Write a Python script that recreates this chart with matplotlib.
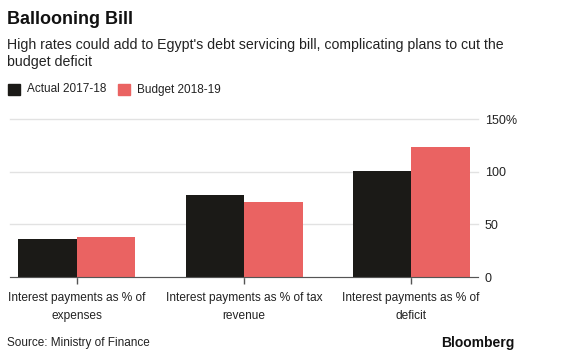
import numpy as np
import matplotlib.pyplot as plt

plt.rcParams['font.family'] = ['Liberation Sans', 'DejaVu Sans']

categories = ['Interest payments as % of\nexpenses',
              'Interest payments as % of tax\nrevenue',
              'Interest payments as % of\ndeficit']
actual = [36, 78, 101]
budget = [38, 71, 123.5]
series_names = ['Actual 2017-18', 'Budget 2018-19']
yticks = [0, 50, 100, 150]
ytick_labels = ['0', '50', '100', '150%']

black = '#1b1a17'
red = '#ea6362'

fig = plt.figure(figsize=(5.84, 3.55), dpi=100)
ax = fig.add_axes([10 / 584, 78 / 355, 468 / 584, 157.7 / 355])

X = np.arange(len(categories))
w = 0.35
ax.bar(X - w / 2, actual, width=w, color=black, zorder=3)
ax.bar(X + w / 2, budget, width=w, color=red, zorder=3)

ax.set_xlim(-0.4, 2.4)
ax.set_ylim(0, 150)
ax.yaxis.tick_right()
ax.set_yticks(yticks)
ax.set_yticklabels(ytick_labels, fontsize=9, color='#222222')
ax.tick_params(axis='y', length=0, pad=5)
ax.grid(axis='y', color='#e2e2e2', lw=1, zorder=0)
ax.set_xticks(X)
ax.set_xticklabels(categories, fontsize=8.6, color='#222222', linespacing=1.6)
ax.tick_params(axis='x', length=5, width=1, color='#555555', pad=6)
for s in ['top', 'right', 'left']:
    ax.spines[s].set_visible(False)
ax.spines['bottom'].set_color('#555555')
ax.spines['bottom'].set_zorder(4)
for gl in ax.get_ygridlines():
    gl.set_clip_on(False)

fig.text(7 / 584, 1 - 20 / 355, 'Ballooning Bill', fontsize=13, fontweight='bold',
         va='center', ha='left', color='#111111')
fig.text(7 / 584, 1 - 53.5 / 355,
         "High rates could add to Egypt's debt servicing bill, complicating plans to cut the\nbudget deficit",
         fontsize=10.2, va='center', ha='left', color='#222222', linespacing=1.3)

# legend
for name, col, x0 in zip(series_names, [black, red], [8, 118]):
    fig.patches.append(plt.Rectangle((x0 / 584, 1 - 95 / 355), 12 / 584, 11 / 355,
                                     transform=fig.transFigure, color=col, figure=fig))
    fig.text((x0 + 19) / 584, 1 - 89.5 / 355, name, fontsize=8.5, va='center', ha='left',
             color='#222222')

fig.text(7 / 584, 1 - 343 / 355, 'Source: Ministry of Finance', fontsize=8.5,
         va='center', ha='left', color='#222222')
fig.text(515 / 584, 1 - 343 / 355, 'Bloomberg', fontsize=10, fontweight='bold',
         va='center', ha='right', color='#111111')

fig.savefig('out.png', dpi=100)
